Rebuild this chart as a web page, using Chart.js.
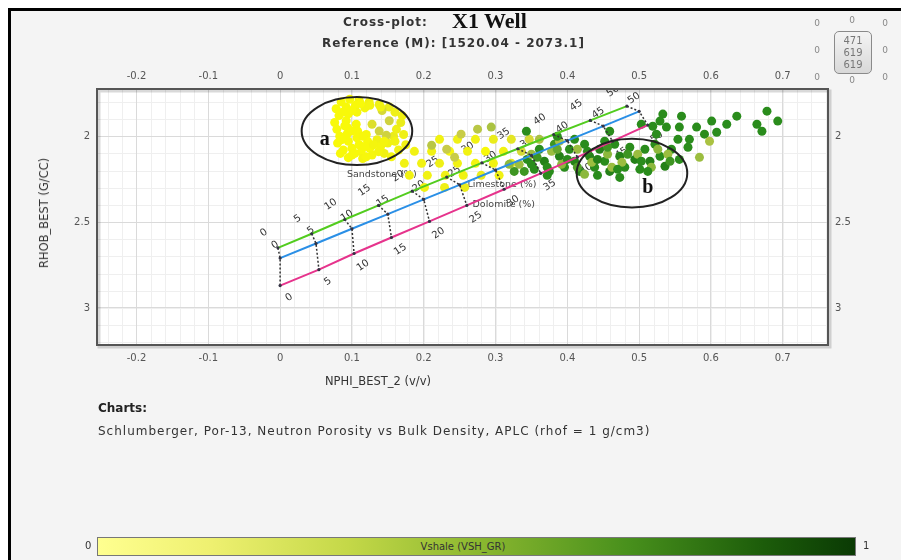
<!DOCTYPE html>
<html>
<head>
<meta charset="utf-8">
<script src="https://cdn.jsdelivr.net/npm/chart.js@4.4.1/dist/chart.umd.min.js"></script>
<style>
body{margin:0;width:901px;height:560px;overflow:hidden;background:#fff;font-family:"DejaVu Sans",sans-serif;position:relative}
#frame{position:absolute;left:8px;top:8px;right:0;bottom:0;border-left:3px solid #000;border-top:3px solid #000;background:#f4f4f4}
#c{position:absolute;left:0;top:0}
.t{position:absolute;white-space:nowrap;color:#333}
.o{position:absolute;font-size:9px;color:#888;width:10px;text-align:center}
#box{position:absolute;left:834px;top:31px;width:38px;height:43px;border:1px solid #8a8a8a;border-radius:5px;background:linear-gradient(#f4f4f4,#d8d8d8);font-size:10px;line-height:12px;text-align:center;color:#777;padding-top:3px;box-sizing:border-box}
#cbar{position:absolute;left:97px;top:537px;width:759px;height:19px;border:1px solid #777;box-sizing:border-box;background:linear-gradient(to right,#ffff90 0%,#eef070 15%,#c4d848 33%,#8cb830 50%,#48901c 70%,#1c5c0a 88%,#0a3a04 100%)}
</style>
</head>
<body>
<div id="frame"></div>
<canvas id="c" width="901" height="560"></canvas>

<div class="t" style="left:343px;top:15px;font-size:12px;font-weight:bold;letter-spacing:1px">Cross-plot:</div>
<div class="t" style="left:452px;top:8px;font-size:22px;font-weight:bold;font-family:'Liberation Serif',serif;color:#111">X1 Well</div>
<div class="t" style="left:322px;top:36px;font-size:12px;font-weight:bold;letter-spacing:1px">Reference (M): [1520.04 - 2073.1]</div>

<div class="o" style="left:812px;top:18px">0</div>
<div class="o" style="left:847px;top:15px">0</div>
<div class="o" style="left:880px;top:18px">0</div>
<div class="o" style="left:812px;top:45px">0</div>
<div class="o" style="left:880px;top:45px">0</div>
<div class="o" style="left:812px;top:72px">0</div>
<div class="o" style="left:847px;top:75px">0</div>
<div class="o" style="left:880px;top:72px">0</div>
<div id="box">471<br>619<br>619</div>

<div class="t" style="left:44px;top:213px;font-size:11.5px;transform:translate(-50%,-50%) rotate(-90deg)">RHOB_BEST (G/CC)</div>
<div class="t" style="left:378px;top:381px;font-size:11.5px;transform:translate(-50%,-50%)">NPHI_BEST_2 (v/v)</div>
<div class="t" style="left:98px;top:401px;font-size:12px;font-weight:bold;color:#222">Charts:</div>
<div class="t" style="left:98px;top:424px;font-size:12px;letter-spacing:1px">Schlumberger, Por-13, Neutron Porosity vs Bulk Density, APLC (rhof = 1 g/cm3)</div>

<div class="t" style="left:85px;top:540px;font-size:10px">0</div>
<div id="cbar"></div>
<div class="t" style="left:463px;top:546px;font-size:10px;transform:translate(-50%,-50%);color:#333">Vshale (VSH_GR)</div>
<div class="t" style="left:863px;top:540px;font-size:10px">1</div>

<script>
// axis ranges and ticks
const X_MIN = -0.255, X_MAX = 0.763;
const Y_MIN = 1.725, Y_MAX = 3.216;
const xTicks = [-0.2, -0.1, 0, 0.1, 0.2, 0.3, 0.4, 0.5, 0.6, 0.7];
const xTickLabels = ['-0.2', '-0.1', '0', '0.1', '0.2', '0.3', '0.4', '0.5', '0.6', '0.7'];
const yTicks = [2, 2.5, 3];
const yTickLabels = ['2', '2.5', '3'];

// chart overlay lines (porosity %)
const porosityLabels = ['0', '5', '10', '15', '20', '25', '30', '35', '40', '45', '50'];
const sandNphi = [-0.003, 0.044, 0.09, 0.137, 0.184, 0.232, 0.281, 0.331, 0.381, 0.432, 0.483];
const sandRhob = [2.65, 2.568, 2.485, 2.403, 2.32, 2.238, 2.155, 2.073, 1.99, 1.908, 1.825];
const limeNphi = [0, 0.05, 0.1, 0.15, 0.2, 0.25, 0.3, 0.35, 0.4, 0.45, 0.5];
const limeRhob = [2.71, 2.625, 2.539, 2.454, 2.368, 2.283, 2.197, 2.112, 2.026, 1.941, 1.855];
const doloNphi = [0, 0.054, 0.103, 0.155, 0.208, 0.26, 0.312, 0.363, 0.414, 0.463, 0.512];
const doloRhob = [2.87, 2.777, 2.683, 2.59, 2.496, 2.403, 2.309, 2.216, 2.122, 2.029, 1.935];
const lithNames = ['Sandstone (%)', 'Limestone (%)', 'Dolomite (%)'];
const lithNameNphi = [0.093, 0.261, 0.268];
const lithNameRhob = [2.222, 2.281, 2.398];

// well data: NPHI, RHOB, Vshale
const nphi = [
  // zone a
  0.085, 0.097, 0.110, 0.124, 0.138, 0.152,
  0.078, 0.082, 0.076, 0.079, 0.083, 0.080, 0.088,
  0.092, 0.095, 0.092, 0.094, 0.093, 0.095, 0.100, 0.100,
  0.105, 0.107, 0.106, 0.108, 0.107, 0.110, 0.113, 0.115,
  0.118, 0.120, 0.122, 0.125, 0.128,
  0.135, 0.140, 0.145, 0.150, 0.158, 0.162, 0.168, 0.170, 0.160, 0.165, 0.155, 0.175,
  0.138, 0.152, 0.142, 0.148, 0.128,
  0.087, 0.100, 0.090, 0.100, 0.086, 0.115, 0.118, 0.104, 0.130, 0.137,
  0.120, 0.112, 0.125, 0.140, 0.084, 0.095, 0.160, 0.145, 0.172,
  // sand band
  0.222, 0.247, 0.272, 0.297, 0.322, 0.347,
  0.187, 0.211, 0.236, 0.261, 0.286, 0.311, 0.336,
  0.173, 0.197, 0.222, 0.247, 0.272, 0.297, 0.322,
  0.180, 0.205, 0.230, 0.255, 0.280, 0.305,
  0.201, 0.229, 0.257,
  0.211, 0.232, 0.252, 0.275, 0.294, 0.243,
  // zone b
  0.344, 0.354, 0.361, 0.368, 0.375, 0.382, 0.389, 0.396, 0.403, 0.410,
  0.417, 0.424, 0.431, 0.438, 0.445, 0.452, 0.459, 0.466, 0.473, 0.480,
  0.487, 0.494, 0.501, 0.508, 0.515, 0.522, 0.529, 0.536, 0.545, 0.556,
  0.568, 0.340, 0.372, 0.442, 0.473, 0.410, 0.452,
  0.350, 0.378, 0.392, 0.414, 0.434, 0.456, 0.476, 0.498, 0.517, 0.540,
  0.584, 0.361, 0.462, 0.424, 0.333, 0.389,
  0.358, 0.372, 0.386, 0.400, 0.414, 0.428, 0.442, 0.456, 0.470, 0.484,
  0.503, 0.526, 0.512, 0.543, 0.350, 0.326, 0.319,
  // high porosity scatter
  0.533, 0.529, 0.519, 0.538, 0.556, 0.559, 0.580, 0.591, 0.601, 0.608,
  0.622, 0.636, 0.664, 0.671, 0.678, 0.693, 0.554, 0.570, 0.524, 0.503,
  0.459, 0.343, 0.386, 0.598
];
const rhob = [
  1.800, 1.785, 1.790, 1.800, 1.815, 1.830,
  1.840, 1.880, 1.920, 1.960, 2.000, 2.040, 2.080,
  1.830, 1.870, 1.910, 1.950, 1.990, 2.030, 2.070, 2.110,
  1.820, 1.860, 1.930, 1.970, 2.010, 2.050, 2.090, 2.130,
  1.835, 1.990, 2.030, 2.070, 2.110,
  2.020, 2.060, 2.100, 2.040, 2.000, 1.960, 1.920, 1.880, 1.860, 2.080, 2.120, 2.050,
  1.970, 1.910, 1.850, 1.995, 1.930,
  1.860, 1.850, 1.940, 1.970, 2.020, 2.000, 2.060, 2.100, 2.050, 2.090,
  2.120, 1.810, 1.820, 1.830, 2.100, 2.125, 2.030, 2.030, 1.990,
  2.018, 2.018, 2.018, 2.018, 2.018, 2.018,
  2.088, 2.088, 2.088, 2.088, 2.088, 2.088, 2.088,
  2.158, 2.158, 2.158, 2.158, 2.158, 2.158, 2.158,
  2.228, 2.228, 2.228, 2.228, 2.228, 2.228,
  2.298, 2.298, 2.298,
  2.053, 2.076, 1.988, 1.959, 1.947, 2.123,
  2.135, 2.193, 2.076, 2.146, 2.205, 2.047, 2.117, 2.181, 2.076, 2.146,
  2.205, 2.047, 2.117, 2.181, 2.076, 2.146, 2.205, 2.047, 2.117, 2.181,
  2.064, 2.135, 2.193, 2.076, 2.146, 2.047, 2.117, 2.175, 2.076, 2.135,
  2.064, 2.205, 2.228, 2.228, 2.240, 2.018, 2.029,
  2.105, 2.088, 2.164, 2.076, 2.152, 2.105, 2.152, 2.105, 2.181, 2.105,
  2.123, 2.018, 2.181, 2.222, 2.164, 2.029,
  2.123, 2.181, 2.076, 2.135, 2.181, 2.088, 2.135, 2.064, 2.193, 2.105,
  2.146, 2.076, 2.205, 2.146, 2.164, 2.205, 2.164,
  1.871, 1.912, 1.942, 1.947, 1.947, 1.883, 1.947, 1.988, 1.912, 1.977,
  1.930, 1.883, 1.930, 1.971, 1.854, 1.912, 2.018, 2.018, 1.988, 1.930,
  1.971, 1.971, 2.000, 2.029
];
const vsh = [
  0.05, 0.05, 0.08, 0.10, 0.12, 0.15,
  0.05, 0.05, 0.05, 0.05, 0.05, 0.05, 0.05,
  0.05, 0.05, 0.05, 0.05, 0.05, 0.05, 0.05, 0.06,
  0.05, 0.07, 0.05, 0.05, 0.05, 0.05, 0.05, 0.08,
  0.08, 0.06, 0.05, 0.05, 0.07,
  0.10, 0.08, 0.10, 0.10, 0.15, 0.12, 0.15, 0.10, 0.12, 0.10, 0.08, 0.10,
  0.35, 0.35, 0.30, 0.35, 0.25,
  0.05, 0.05, 0.05, 0.05, 0.05, 0.06, 0.05, 0.05, 0.08, 0.08,
  0.06, 0.05, 0.08, 0.10, 0.05, 0.05, 0.10, 0.08, 0.12,
  0.10, 0.12, 0.10, 0.15, 0.20, 0.30,
  0.10, 0.10, 0.08, 0.10, 0.05, 0.10, 0.30,
  0.10, 0.10, 0.12, 0.10, 0.08, 0.10, 0.20,
  0.10, 0.10, 0.12, 0.10, 0.15, 0.10,
  0.10, 0.12, 0.15,
  0.45, 0.40, 0.40, 0.45, 0.50, 0.40,
  0.85, 0.85, 0.85, 0.90, 0.85, 0.80, 0.90, 0.85, 0.85, 0.90,
  0.85, 0.85, 0.90, 0.85, 0.90, 0.85, 0.90, 0.85, 0.90, 0.85,
  0.85, 0.90, 0.85, 0.85, 0.90, 0.85, 0.85, 0.90, 0.85, 0.85,
  0.85, 0.80, 0.85, 0.85, 0.85, 0.85, 0.85,
  0.55, 0.55, 0.60, 0.55, 0.55, 0.60, 0.55, 0.55, 0.60, 0.55,
  0.55, 0.50, 0.55, 0.60, 0.55, 0.50,
  0.80, 0.85, 0.70, 0.85, 0.75, 0.85, 0.90, 0.80, 0.85, 0.80,
  0.85, 0.60, 0.85, 0.80, 0.85, 0.80, 0.60,
  0.85, 0.85, 0.85, 0.85, 0.85, 0.85, 0.85, 0.85, 0.85, 0.85,
  0.85, 0.85, 0.85, 0.85, 0.85, 0.85, 0.85, 0.85, 0.85, 0.85,
  0.85, 0.85, 0.85, 0.50
];

// annotations (zone ellipses)
const zones = [
  { text: 'a', nphi: 0.107, rhob: 1.97, rx: 0.077, ry: 0.198, textNphi: 0.062, textRhob: 2.02 },
  { text: 'b', nphi: 0.49, rhob: 2.215, rx: 0.077, ry: 0.2, textNphi: 0.512, textRhob: 2.3 }
];

const vshStops = [[0, [255, 255, 0]], [0.4, [200, 204, 72]], [0.6, [140, 184, 60]], [0.85, [42, 140, 28]], [1, [26, 108, 16]]];
function vshColor(v) {
  for (let i = 1; i < vshStops.length; i++) {
    if (v <= vshStops[i][0]) {
      const [a, ca] = vshStops[i - 1], [b, cb] = vshStops[i];
      const t = (v - a) / (b - a);
      const c = ca.map((k, j) => Math.round(k + (cb[j] - k) * t));
      return 'rgb(' + c.join(',') + ')';
    }
  }
  return 'rgb(26,108,16)';
}

function pts(xs, ys) { return xs.map((v, i) => ({ x: v, y: ys[i] })); }

var datasets = [];
datasets.push({ data: pts(sandNphi, sandRhob), showLine: true, borderColor: '#52cc1e', borderWidth: 2, pointRadius: 1.6, pointBackgroundColor: '#334', pointBorderWidth: 0, order: 1 });
datasets.push({ data: pts(limeNphi, limeRhob), showLine: true, borderColor: '#2a8fe6', borderWidth: 2, pointRadius: 1.6, pointBackgroundColor: '#334', pointBorderWidth: 0, order: 1 });
datasets.push({ data: pts(doloNphi, doloRhob), showLine: true, borderColor: '#e6338c', borderWidth: 2, pointRadius: 1.6, pointBackgroundColor: '#334', pointBorderWidth: 0, order: 1 });
porosityLabels.forEach((p, i) => {
  datasets.push({
    data: [{ x: sandNphi[i], y: sandRhob[i] }, { x: limeNphi[i], y: limeRhob[i] }, { x: doloNphi[i], y: doloRhob[i] }],
    showLine: true, borderColor: '#333', borderWidth: 1.5, borderDash: [2, 2], pointRadius: 0, order: 2
  });
});
datasets.push({
  data: pts(nphi, rhob),
  backgroundColor: vsh.map(vshColor),
  borderWidth: 0, pointRadius: 4.5, order: 5
});

const plotDeco = {
  id: 'plotDeco',
  beforeDraw(chart) {
    const { ctx, chartArea: a, scales: { x, y } } = chart;
    ctx.save();
    ctx.fillStyle = '#fff';
    ctx.fillRect(a.left, a.top, a.width, a.height);
    ctx.strokeStyle = '#efefef';
    ctx.lineWidth = 1;
    ctx.beginPath();
    for (let i = -12; i <= 38; i++) {
      const px = Math.round(x.getPixelForValue(i * 0.02)) + 0.5;
      if (px > a.left && px < a.right) { ctx.moveTo(px, a.top); ctx.lineTo(px, a.bottom); }
    }
    for (let i = 18; i <= 32; i++) {
      const py = Math.round(y.getPixelForValue(i * 0.1)) + 0.5;
      if (py > a.top && py < a.bottom) { ctx.moveTo(a.left, py); ctx.lineTo(a.right, py); }
    }
    ctx.stroke();
    ctx.restore();
  },
  beforeDatasetsDraw(chart) {
    const { ctx, chartArea: a, scales: { x, y } } = chart;
    ctx.save();
    ctx.beginPath();
    ctx.rect(a.left, a.top, a.width, a.height);
    ctx.clip();
    ctx.fillStyle = '#333';
    ctx.font = '10px "DejaVu Sans"';
    ctx.textAlign = 'center';
    ctx.textBaseline = 'middle';
    const sets = [[sandNphi, sandRhob, -14, -15], [limeNphi, limeRhob, -5, -13], [doloNphi, doloRhob, 9, 12]];
    sets.forEach(([xs, ys, dx, dy]) => {
      porosityLabels.forEach((lab, i) => {
        ctx.save();
        ctx.translate(x.getPixelForValue(xs[i]) + dx, y.getPixelForValue(ys[i]) + dy);
        ctx.rotate(-0.6);
        ctx.fillText(lab, 0, 0);
        ctx.restore();
      });
    });
    ctx.textAlign = 'left';
    ctx.fillStyle = '#444';
    ctx.font = '9.5px "DejaVu Sans"';
    lithNames.forEach((n, i) => {
      ctx.fillText(n, x.getPixelForValue(lithNameNphi[i]), y.getPixelForValue(lithNameRhob[i]));
    });
    ctx.restore();
  },
  afterDatasetsDraw(chart) {
    const { ctx, scales: { x, y } } = chart;
    ctx.save();
    zones.forEach(z => {
      const cx = x.getPixelForValue(z.nphi), cy = y.getPixelForValue(z.rhob);
      const rx = x.getPixelForValue(z.nphi + z.rx) - cx;
      const ry = y.getPixelForValue(z.rhob + z.ry) - cy;
      ctx.beginPath();
      ctx.ellipse(cx, cy, rx, ry, 0, 0, Math.PI * 2);
      ctx.strokeStyle = '#222';
      ctx.lineWidth = 2;
      ctx.stroke();
      ctx.fillStyle = '#111';
      ctx.font = 'bold 20px "Liberation Serif"';
      ctx.textAlign = 'center';
      ctx.textBaseline = 'middle';
      ctx.fillText(z.text, x.getPixelForValue(z.textNphi), y.getPixelForValue(z.textRhob));
    });
    ctx.restore();
  },
  afterDraw(chart) {
    const { ctx, chartArea: a } = chart;
    ctx.save();
    ctx.strokeStyle = 'rgba(0,0,0,0.15)';
    ctx.lineWidth = 3;
    ctx.strokeRect(a.left + 2, a.top + 2, a.width, a.height);
    ctx.strokeStyle = '#555';
    ctx.lineWidth = 2;
    ctx.strokeRect(a.left, a.top, a.width, a.height);
    ctx.restore();
  }
};

const tickFont = { family: 'DejaVu Sans', size: 10 };
function xAxis(pos, h) {
  return {
    type: 'linear', position: pos, min: X_MIN, max: X_MAX,
    afterBuildTicks: s => { s.ticks = xTicks.map(v => ({ value: v })); },
    afterFit: s => { s.height = h; },
    grid: { display: pos === 'bottom', color: '#dadada', drawTicks: false },
    border: { display: false },
    ticks: { padding: 7, color: '#555', font: tickFont, maxRotation: 0, callback: (v, i) => xTickLabels[i] }
  };
}
function yAxis(pos, w) {
  return {
    type: 'linear', position: pos, min: Y_MIN, max: Y_MAX, reverse: true,
    afterBuildTicks: s => { s.ticks = yTicks.map(v => ({ value: v })); },
    afterFit: s => { s.width = w; },
    grid: { display: pos === 'left', color: '#dadada', drawTicks: false },
    border: { display: false },
    ticks: { padding: 7, color: '#555', font: tickFont, callback: (v, i) => yTickLabels[i] }
  };
}

new Chart(document.getElementById('c').getContext('2d'), {
  type: 'scatter',
  data: { datasets: datasets },
  options: {
    responsive: false,
    animation: false,
    layout: { padding: 0 },
    plugins: { legend: { display: false }, tooltip: { enabled: false } },
    scales: {
      x: xAxis('bottom', 215),
      xTop: xAxis('top', 89),
      y: yAxis('left', 97),
      yRight: yAxis('right', 73)
    }
  },
  plugins: [plotDeco]
});
</script>
</body>
</html>
